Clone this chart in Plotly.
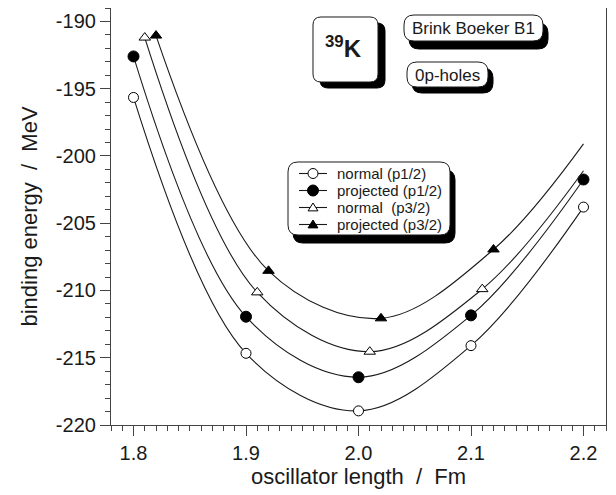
import plotly.graph_objects as go

# ---------------- data ----------------
x_p12 = [1.80, 1.90, 2.00, 2.10, 2.20]
y_normal_p12 = [-195.65, -214.67, -218.95, -214.10, -203.80]
y_proj_p12 = [-192.60, -211.95, -216.45, -211.85, -201.75]

x_normal_p32 = [1.81, 1.91, 2.01, 2.11, 2.20]
y_normal_p32 = [-191.20, -210.14, -214.55, -209.90, -201.10]   # last value: curve end (no marker)
x_proj_p32 = [1.82, 1.92, 2.02, 2.12, 2.20]
y_proj_p32 = [-191.05, -208.54, -212.07, -206.95, -199.10]     # last value: curve end (no marker)

names = ["normal (p1/2)", "projected (p1/2)", "normal \u00a0(p3/2)", "projected (p3/2)"]
x_ticks = [1.8, 1.9, 2.0, 2.1, 2.2]
x_ticktext = ["1.8", "1.9", "2.0", "2.1", "2.2"]
y_ticks = [-220, -215, -210, -205, -200, -195, -190]
y_ticktext = ["-220", "-215", "-210", "-205", "-200", "-195", "-190"]

FONT = "Liberation Sans, Arial, Helvetica, sans-serif"
INK = "#1a1a1a"
FILL = "#000000"

fig = go.Figure()

def add_series(xs, ys, name, symbol, filled, size, last_hidden=False):
    sizes = [size] * len(xs)
    if last_hidden:
        sizes[-1] = 0
    fig.add_trace(go.Scatter(
        x=xs, y=ys, name=name, mode="lines+markers", showlegend=False,
        line=dict(color=INK, width=1.1, shape="spline", smoothing=1.0),
        marker=dict(symbol=symbol, size=sizes, opacity=1,
                    color=FILL if filled else "white",
                    line=dict(color=FILL, width=1)),
    ))

add_series(x_p12, y_normal_p12, names[0], "circle", False, 10)
add_series(x_p12, y_proj_p12, names[1], "circle", True, 11)
add_series(x_normal_p32, y_normal_p32, names[2], "triangle-up", False, 10, True)
add_series(x_proj_p32, y_proj_p32, names[3], "triangle-up", True, 10, True)

# ---------------- decorations (window pixel -> paper) ----------------
# the page body has an 8px margin, so the figure is offset by (8, 8) in the window
OFF = 8
L, R, T, B = 111, 606, 8, 425
W, H = R - L, B - T

def px(x):
    return (x - L) / W

def py(y):
    return (B - y) / H

def rrect(x0, y0, x1, y1, r):
    pts = [
        ("M", [(x0 + r, y0)]),
        ("L", [(x1 - r, y0)]),
        ("Q", [(x1, y0), (x1, y0 + r)]),
        ("L", [(x1, y1 - r)]),
        ("Q", [(x1, y1), (x1 - r, y1)]),
        ("L", [(x0 + r, y1)]),
        ("Q", [(x0, y1), (x0, y1 - r)]),
        ("L", [(x0, y0 + r)]),
        ("Q", [(x0, y0), (x0 + r, y0)]),
    ]
    s = ""
    for cmd, ps in pts:
        s += cmd + " " + " ".join(f"{px(a):.5f},{py(b):.5f}" for a, b in ps) + " "
    return s + "Z"

def boxed(x0, y0, x1, y1, r, dx, dy):
    fig.add_shape(type="path", path=rrect(x0 + dx, y0 + dy, x1 + dx, y1 + dy, r),
                  xref="paper", yref="paper", fillcolor=FILL, line=dict(color=FILL, width=1),
                  opacity=1, layer="above")
    fig.add_shape(type="path", path=rrect(x0, y0, x1, y1, r),
                  xref="paper", yref="paper", fillcolor="white", line=dict(color=INK, width=1),
                  opacity=1, layer="above")

boxed(313, 17, 378, 82, 8, 7, 6)
boxed(404, 15, 543, 41, 10, 5, 8)
boxed(407, 62, 488, 87, 10, 5, 6)
boxed(288, 162, 450, 235, 10, 5, 8)

def ann(text, x, y, size, anchor="center"):
    fig.add_annotation(text=text, x=px(x), y=py(y), xref="paper", yref="paper",
                       xanchor=anchor, yanchor="middle", showarrow=False,
                       font=dict(family=FONT, size=size, color=INK))

ann("<b><sup>39</sup>K</b>", 343, 47, 24)
ann("Brink Boeker B1", 473.5, 28.5, 17)
ann("0p-holes", 447.5, 75, 17)

# ---------------- hand-made legend inside the rounded box ----------------
leg_rows = [173.5, 190.5, 207.5, 224.5]
leg_kinds = [("circle", False), ("circle", True), ("triangle", False), ("triangle", True)]
for yrow, (kind, filled), name in zip(leg_rows, leg_kinds, names):
    fig.add_shape(type="line", x0=px(299), x1=px(327), y0=py(yrow), y1=py(yrow),
                  xref="paper", yref="paper", line=dict(color=INK, width=1.1), layer="above")
    fc = FILL if filled else "white"
    if kind == "circle":
        r = 5.5 if filled else 5
        fig.add_shape(type="circle", x0=px(313 - r), x1=px(313 + r), y0=py(yrow - r), y1=py(yrow + r),
                      xref="paper", yref="paper", fillcolor=fc, line=dict(color=FILL, width=1),
                      opacity=1, layer="above")
    else:
        h = 4.5
        path = (f"M {px(313):.5f},{py(yrow - h):.5f} L {px(313 + h * 1.1):.5f},{py(yrow + h * 0.75):.5f} "
                f"L {px(313 - h * 1.1):.5f},{py(yrow + h * 0.75):.5f} Z")
        fig.add_shape(type="path", path=path, xref="paper", yref="paper", fillcolor=fc,
                      line=dict(color=FILL, width=1), opacity=1, layer="above")
    ann(name, 335, yrow, 15, anchor="left")

axis_common = dict(
    showgrid=False, zeroline=False, showline=True, linecolor="#444", linewidth=1.2,
    mirror=True, ticks="outside", ticklen=10, tickwidth=1, tickcolor="#444",
    tickfont=dict(family=FONT, size=20, color=INK),
)

fig.update_layout(
    width=616, height=495,
    margin=dict(l=L - OFF, r=616 + OFF - R, t=T - OFF, b=495 + OFF - B),
    paper_bgcolor="white", plot_bgcolor="white",
    font=dict(family=FONT, color=INK),
    xaxis=dict(range=[1.78, 2.22], tickmode="array", tickvals=x_ticks, ticktext=x_ticktext,
               minor=dict(tickmode="linear", tick0=1.8, dtick=0.01, ticks="outside",
                          ticklen=5, tickcolor="#444"),
               title=dict(text="oscillator length \u00a0/\u00a0 Fm",
                          font=dict(family=FONT, size=22, color=INK), standoff=5),
               **axis_common),
    yaxis=dict(range=[-220, -189], tickmode="array", tickvals=y_ticks, ticktext=y_ticktext,
               minor=dict(tickmode="linear", tick0=-220, dtick=1, ticks="outside",
                          ticklen=5, tickcolor="#444"),
               title=dict(text="binding energy \u00a0/\u00a0 MeV",
                          font=dict(family=FONT, size=22, color=INK), standoff=12),
               **axis_common),
    showlegend=False,
)

fig.write_html("out.html")
